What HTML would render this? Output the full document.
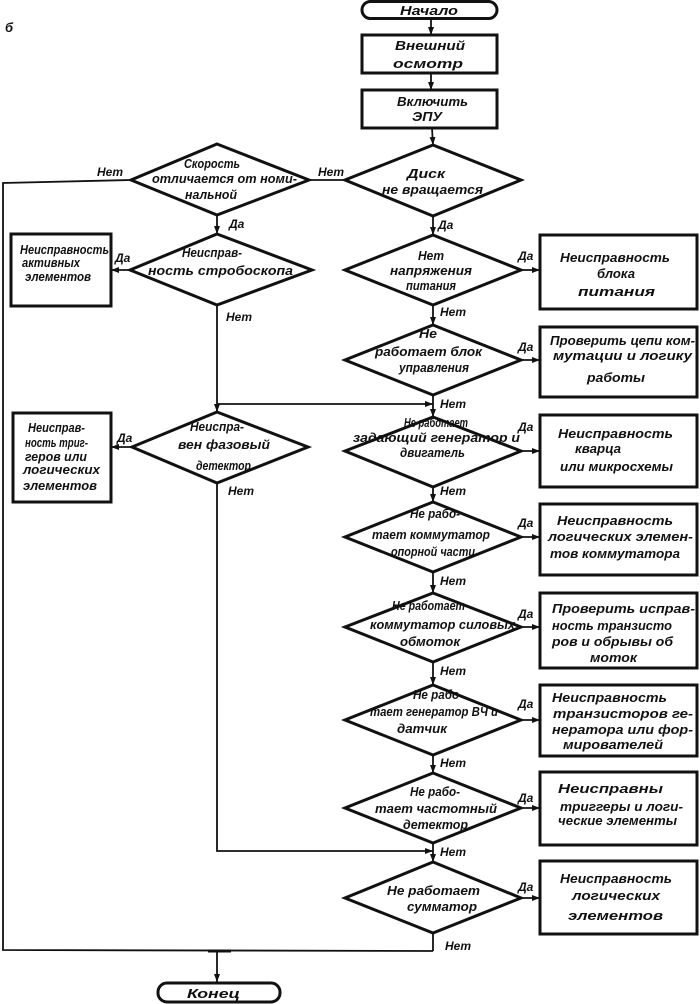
<!DOCTYPE html>
<html>
<head>
<meta charset="utf-8">
<style>
  html, body { margin:0; padding:0; background:#fff; }
  svg { display:block; }
  text { font-family: "Liberation Sans", "DejaVu Sans", sans-serif; font-style: italic; font-weight: bold; fill:#111; }
  .t { font-size: 13px; }
  .l { font-size: 12px; }
  .shape { fill:#fff; stroke:#111; stroke-width:3; }
  .c { fill:none; stroke:#111; stroke-width:1.8; }
</style>
</head>
<body>
<svg width="700" height="1004" viewBox="0 0 700 1004" xmlns="http://www.w3.org/2000/svg">
  <defs>
    <marker id="a" markerUnits="userSpaceOnUse" markerWidth="9" markerHeight="7" refX="8" refY="3.5" orient="auto">
      <path d="M0,0.5 L8,3.5 L0,6.5 z" fill="#111"/>
    </marker>
  </defs>
  <rect width="700" height="1004" fill="#fff"/>

  <!-- б -->
  <text class="t" x="5" y="32" font-size="14">б</text>

  <!-- Connectors -->
  <line class="c" x1="431" y1="19" x2="431" y2="35" marker-end="url(#a)"/>
  <line class="c" x1="431" y1="73" x2="431" y2="90" marker-end="url(#a)"/>
  <line class="c" x1="432" y1="128" x2="433" y2="145" marker-end="url(#a)"/>

  <line class="c" x1="345" y1="180" x2="309" y2="180"/>
  <polyline class="c" points="131,180 3,183 3,950 433,951"/>
  <line class="c" x1="433" y1="933" x2="433" y2="951"/>
  <line class="c" x1="217" y1="951" x2="217" y2="982" marker-end="url(#a)"/>
  <line x1="208" y1="951" x2="231" y2="951" stroke="#111" stroke-width="3"/>

  <line class="c" x1="217" y1="215" x2="217" y2="234" marker-end="url(#a)"/>
  <line class="c" x1="130" y1="270" x2="111" y2="270" marker-end="url(#a)"/>
  <line class="c" x1="217" y1="305" x2="217" y2="412" marker-end="url(#a)"/>
  <line class="c" x1="217" y1="404" x2="433" y2="404" marker-end="url(#a)"/>
  <line class="c" x1="132" y1="447" x2="111" y2="447" marker-end="url(#a)"/>
  <polyline class="c" points="217,483 217,851 433,851" marker-end="url(#a)"/>

  <line class="c" x1="433" y1="216" x2="433" y2="235" marker-end="url(#a)"/>
  <line class="c" x1="433" y1="305" x2="433" y2="325" marker-end="url(#a)"/>
  <line class="c" x1="433" y1="395" x2="433" y2="417" marker-end="url(#a)"/>
  <line class="c" x1="433" y1="487" x2="433" y2="502" marker-end="url(#a)"/>
  <line class="c" x1="433" y1="572" x2="433" y2="593" marker-end="url(#a)"/>
  <line class="c" x1="433" y1="662" x2="433" y2="685" marker-end="url(#a)"/>
  <line class="c" x1="433" y1="755" x2="433" y2="773" marker-end="url(#a)"/>
  <line class="c" x1="433" y1="843" x2="433" y2="862" marker-end="url(#a)"/>

  <line class="c" x1="521" y1="270" x2="540" y2="270" marker-end="url(#a)"/>
  <line class="c" x1="521" y1="360" x2="540" y2="360" marker-end="url(#a)"/>
  <line class="c" x1="521" y1="451" x2="540" y2="451" marker-end="url(#a)"/>
  <line class="c" x1="521" y1="537" x2="540" y2="537" marker-end="url(#a)"/>
  <line class="c" x1="521" y1="627" x2="540" y2="627" marker-end="url(#a)"/>
  <line class="c" x1="521" y1="720" x2="540" y2="720" marker-end="url(#a)"/>
  <line class="c" x1="521" y1="808" x2="540" y2="808" marker-end="url(#a)"/>
  <line class="c" x1="521" y1="898" x2="540" y2="898" marker-end="url(#a)"/>

  <!-- Top terminal & boxes -->
  <rect class="shape" x="362" y="1.5" width="135" height="17" rx="8.5"/>
  <text class="t" x="400" y="15" textLength="58" lengthAdjust="spacingAndGlyphs">Начало</text>

  <rect class="shape" x="362" y="35" width="135" height="38"/>
  <text class="t" x="395" y="50" textLength="70" lengthAdjust="spacingAndGlyphs">Внешний</text>
  <text class="t" x="393" y="68" textLength="70" lengthAdjust="spacingAndGlyphs">осмотр</text>

  <rect class="shape" x="362" y="90" width="135" height="38"/>
  <text class="t" x="397" y="106" textLength="71" lengthAdjust="spacingAndGlyphs">Включить</text>
  <text class="t" x="412" y="121" textLength="30" lengthAdjust="spacingAndGlyphs">ЭПУ</text>

  <!-- Main column diamonds -->
  <polygon class="shape" points="433,145 521,180 433,216 345,180"/>
  <text class="t" x="407" y="178" textLength="38" lengthAdjust="spacingAndGlyphs">Диск</text>
  <text class="t" x="382" y="194" textLength="101" lengthAdjust="spacingAndGlyphs">не вращается</text>

  <polygon class="shape" points="433,235 521,270 433,305 345,270"/>
  <text class="t" x="418" y="260" textLength="26" lengthAdjust="spacingAndGlyphs">Нет</text>
  <text class="t" x="390" y="275" textLength="82" lengthAdjust="spacingAndGlyphs">напряжения</text>
  <text class="t" x="406" y="290" textLength="50" lengthAdjust="spacingAndGlyphs">питания</text>

  <polygon class="shape" points="433,325 521,360 433,395 345,360"/>
  <text class="t" x="419" y="338" textLength="18" lengthAdjust="spacingAndGlyphs">Не</text>
  <text class="t" x="375" y="356" textLength="107" lengthAdjust="spacingAndGlyphs">работает блок</text>
  <text class="t" x="399" y="372" textLength="70" lengthAdjust="spacingAndGlyphs">управления</text>

  <polygon class="shape" points="433,417 521,451 433,487 345,451"/>
  <text class="t" x="404" y="427" textLength="64" lengthAdjust="spacingAndGlyphs">Не работает</text>
  <text class="t" x="353" y="442" textLength="167" lengthAdjust="spacingAndGlyphs">задающий генератор и</text>
  <text class="t" x="400" y="457" textLength="65" lengthAdjust="spacingAndGlyphs">двигатель</text>

  <polygon class="shape" points="433,502 521,537 433,572 345,537"/>
  <text class="t" x="410" y="518" textLength="50" lengthAdjust="spacingAndGlyphs">Не рабо-</text>
  <text class="t" x="372" y="539" textLength="118" lengthAdjust="spacingAndGlyphs">тает коммутатор</text>
  <text class="t" x="391" y="556" textLength="84" lengthAdjust="spacingAndGlyphs">опорной части</text>

  <polygon class="shape" points="433,593 521,627 433,662 345,627"/>
  <text class="t" x="392" y="610" textLength="73" lengthAdjust="spacingAndGlyphs">Не работает</text>
  <text class="t" x="370" y="629" textLength="145" lengthAdjust="spacingAndGlyphs">коммутатор силовых</text>
  <text class="t" x="400" y="646" textLength="60" lengthAdjust="spacingAndGlyphs">обмоток</text>

  <polygon class="shape" points="433,685 521,720 433,755 345,720"/>
  <text class="t" x="413" y="699" textLength="50" lengthAdjust="spacingAndGlyphs">Не рабо-</text>
  <text class="t" x="370" y="716" textLength="128" lengthAdjust="spacingAndGlyphs">тает генератор ВЧ и</text>
  <text class="t" x="397" y="733" textLength="50" lengthAdjust="spacingAndGlyphs">датчик</text>

  <polygon class="shape" points="433,773 521,808 433,843 345,808"/>
  <text class="t" x="410" y="796" textLength="50" lengthAdjust="spacingAndGlyphs">Не рабо-</text>
  <text class="t" x="375" y="813" textLength="122" lengthAdjust="spacingAndGlyphs">тает частотный</text>
  <text class="t" x="403" y="829" textLength="65" lengthAdjust="spacingAndGlyphs">детектор</text>

  <polygon class="shape" points="433,862 521,898 433,933 345,898"/>
  <text class="t" x="387" y="895" textLength="93" lengthAdjust="spacingAndGlyphs">Не работает</text>
  <text class="t" x="407" y="911" textLength="70" lengthAdjust="spacingAndGlyphs">сумматор</text>

  <!-- Right boxes -->
  <rect class="shape" x="540" y="235" width="157" height="74"/>
  <text class="t" x="560" y="262" textLength="110" lengthAdjust="spacingAndGlyphs">Неисправность</text>
  <text class="t" x="597" y="278" textLength="38" lengthAdjust="spacingAndGlyphs">блока</text>
  <text class="t" x="578" y="296" textLength="77" lengthAdjust="spacingAndGlyphs">питания</text>

  <rect class="shape" x="540" y="327" width="157" height="70"/>
  <text class="t" x="550" y="345" textLength="145" lengthAdjust="spacingAndGlyphs">Проверить цепи ком-</text>
  <text class="t" x="553" y="360" textLength="139" lengthAdjust="spacingAndGlyphs">мутации и логику</text>
  <text class="t" x="587" y="382" textLength="58" lengthAdjust="spacingAndGlyphs">работы</text>

  <rect class="shape" x="540" y="415" width="157" height="72"/>
  <text class="t" x="558" y="438" textLength="115" lengthAdjust="spacingAndGlyphs">Неисправность</text>
  <text class="t" x="575" y="453" textLength="46" lengthAdjust="spacingAndGlyphs">кварца</text>
  <text class="t" x="560" y="471" textLength="113" lengthAdjust="spacingAndGlyphs">или микросхемы</text>

  <rect class="shape" x="540" y="504" width="157" height="71"/>
  <text class="t" x="557" y="525" textLength="116" lengthAdjust="spacingAndGlyphs">Неисправность</text>
  <text class="t" x="548" y="541" textLength="145" lengthAdjust="spacingAndGlyphs">логических элемен-</text>
  <text class="t" x="550" y="558" textLength="130" lengthAdjust="spacingAndGlyphs">тов коммутатора</text>

  <rect class="shape" x="540" y="593" width="157" height="75"/>
  <text class="t" x="552" y="613" textLength="143" lengthAdjust="spacingAndGlyphs">Проверить исправ-</text>
  <text class="t" x="552" y="630" textLength="120" lengthAdjust="spacingAndGlyphs">ность транзисто</text>
  <text class="t" x="552" y="646" textLength="121" lengthAdjust="spacingAndGlyphs">ров и обрывы об</text>
  <text class="t" x="590" y="662" textLength="47" lengthAdjust="spacingAndGlyphs">моток</text>

  <rect class="shape" x="540" y="685" width="157" height="71"/>
  <text class="t" x="552" y="702" textLength="115" lengthAdjust="spacingAndGlyphs">Неисправность</text>
  <text class="t" x="553" y="718" textLength="140" lengthAdjust="spacingAndGlyphs">транзисторов ге-</text>
  <text class="t" x="552" y="734" textLength="141" lengthAdjust="spacingAndGlyphs">нератора или фор-</text>
  <text class="t" x="563" y="749" textLength="100" lengthAdjust="spacingAndGlyphs">мирователей</text>

  <rect class="shape" x="540" y="772" width="157" height="73"/>
  <text class="t" x="558" y="793" textLength="105" lengthAdjust="spacingAndGlyphs">Неисправны</text>
  <text class="t" x="560" y="811" textLength="123" lengthAdjust="spacingAndGlyphs">триггеры и логи-</text>
  <text class="t" x="558" y="825" textLength="119" lengthAdjust="spacingAndGlyphs">ческие элементы</text>

  <rect class="shape" x="540" y="861" width="157" height="73"/>
  <text class="t" x="560" y="883" textLength="112" lengthAdjust="spacingAndGlyphs">Неисправность</text>
  <text class="t" x="572" y="900" textLength="88" lengthAdjust="spacingAndGlyphs">логических</text>
  <text class="t" x="568" y="920" textLength="95" lengthAdjust="spacingAndGlyphs">элементов</text>

  <!-- Left column -->
  <polygon class="shape" points="217,144 309,180 217,215 131,180"/>
  <text class="t" x="184" y="168" textLength="56" lengthAdjust="spacingAndGlyphs">Скорость</text>
  <text class="t" x="152" y="183" textLength="145" lengthAdjust="spacingAndGlyphs">отличается от номи-</text>
  <text class="t" x="185" y="199" textLength="52" lengthAdjust="spacingAndGlyphs">нальной</text>

  <polygon class="shape" points="217,234 312,270 217,305 130,270"/>
  <text class="t" x="182" y="257" textLength="60" lengthAdjust="spacingAndGlyphs">Неисправ-</text>
  <text class="t" x="148" y="275" textLength="145" lengthAdjust="spacingAndGlyphs">ность стробоскопа</text>

  <polygon class="shape" points="217,412 308,447 217,483 132,447"/>
  <text class="t" x="190" y="431" textLength="54" lengthAdjust="spacingAndGlyphs">Неиспра-</text>
  <text class="t" x="178" y="449" textLength="92" lengthAdjust="spacingAndGlyphs">вен фазовый</text>
  <text class="t" x="196" y="470" textLength="55" lengthAdjust="spacingAndGlyphs">детектор</text>

  <rect class="shape" x="11" y="234" width="100" height="72"/>
  <text class="t" x="20" y="254" textLength="89" lengthAdjust="spacingAndGlyphs">Неисправность</text>
  <text class="t" x="22" y="267" textLength="58" lengthAdjust="spacingAndGlyphs">активных</text>
  <text class="t" x="25" y="281" textLength="66" lengthAdjust="spacingAndGlyphs">элементов</text>

  <rect class="shape" x="13" y="413" width="98" height="89"/>
  <text class="t" x="28" y="432" textLength="57" lengthAdjust="spacingAndGlyphs">Неисправ-</text>
  <text class="t" x="25" y="447" textLength="63" lengthAdjust="spacingAndGlyphs">ность триг-</text>
  <text class="t" x="25" y="461" textLength="62" lengthAdjust="spacingAndGlyphs">геров или</text>
  <text class="t" x="23" y="474" textLength="77" lengthAdjust="spacingAndGlyphs">логических</text>
  <text class="t" x="23" y="490" textLength="74" lengthAdjust="spacingAndGlyphs">элементов</text>

  <!-- End terminal -->
  <rect class="shape" x="158" y="983" width="122" height="19" rx="9"/>
  <text class="t" x="187" y="998" textLength="53" lengthAdjust="spacingAndGlyphs">Конец</text>

  <!-- Labels -->
  <text class="l" x="97" y="176">Нет</text>
  <text class="l" x="318" y="176">Нет</text>
  <text class="l" x="229" y="228">Да</text>
  <text class="l" x="438" y="229">Да</text>
  <text class="l" x="115" y="262">Да</text>
  <text class="l" x="226" y="321">Нет</text>
  <text class="l" x="117" y="442">Да</text>
  <text class="l" x="228" y="495">Нет</text>

  <text class="l" x="440" y="316">Нет</text>
  <text class="l" x="440" y="408">Нет</text>
  <text class="l" x="440" y="495">Нет</text>
  <text class="l" x="440" y="585">Нет</text>
  <text class="l" x="440" y="675">Нет</text>
  <text class="l" x="440" y="767">Нет</text>
  <text class="l" x="440" y="856">Нет</text>
  <text class="l" x="445" y="950">Нет</text>

  <text class="l" x="518" y="260">Да</text>
  <text class="l" x="518" y="351">Да</text>
  <text class="l" x="518" y="431">Да</text>
  <text class="l" x="518" y="527">Да</text>
  <text class="l" x="518" y="618">Да</text>
  <text class="l" x="518" y="708">Да</text>
  <text class="l" x="518" y="802">Да</text>
  <text class="l" x="518" y="891">Да</text>
</svg>
</body>
</html>
